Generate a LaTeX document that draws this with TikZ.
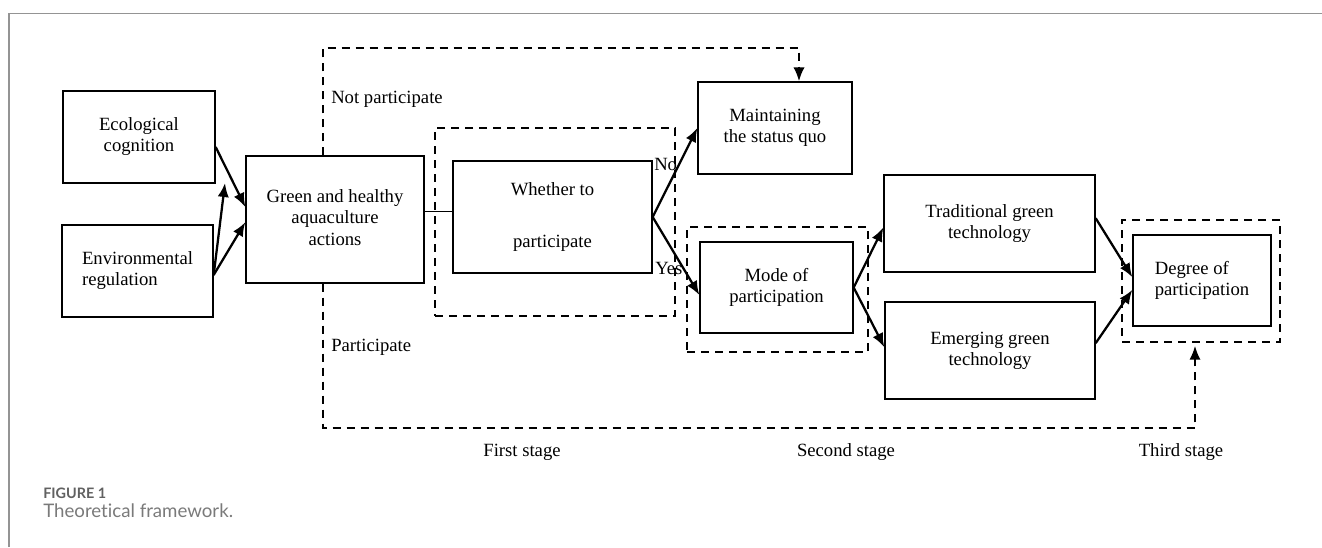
\documentclass[tikz,border=0pt]{standalone}
\usepackage{fontspec}
\setmainfont{Liberation Serif}
\newfontfamily\capfont[Ligatures=NoCommon]{Lato}
\usepackage{xcolor}
\usepackage{tikz}
\usetikzlibrary{arrows.meta}

\begin{document}
\begin{tikzpicture}[x=0.75pt, y=-0.75pt, >={Latex[length=10.5pt,width=8.5pt]},
                    font=\fontsize{14}{16}\selectfont]
\tikzstyle{block}=[rectangle, draw, line width=1pt, inner sep=1pt]
\tikzstyle{dashline}=[line width=1.6pt, dash pattern=on 6pt off 4.5pt]
\tikzstyle{stagebox}=[rectangle, draw, dashline, inner sep=0pt]
\tikzstyle{flow}=[->, line width=1.7pt]
\tikzstyle{note}=[inner sep=0pt]
  \useasboundingbox (0,0) rectangle (1322,547);
  % frame of the figure
  \draw[black!42, line width=1.1pt] (9,547) -- (9,13.5) -- (1322,13.5);
  % stage frames
  \node[stagebox] (first)  at (555,222)   [minimum width=180pt, minimum height=141pt] {};
  \node[stagebox] (second) at (777.5,289.5) [minimum width=135.75pt, minimum height=93.75pt] {};
  \node[stagebox] (third)  at (1201,281)  [minimum width=118.5pt, minimum height=91.5pt] {};
  % boxes
  \node[block] (eco) at (139,137) [minimum width=114pt, minimum height=69pt]
                            {\begin{tabular}{c}Ecological\\cognition\end{tabular}};
  \node[block] (env) at (137.5,271) [minimum width=113.25pt, minimum height=69pt]
                            {\begin{tabular}{l}Environmental\\regulation\end{tabular}};
  \node[block] (green) at (335,219.5) [minimum width=133.5pt, minimum height=95.25pt]
                            {\begin{tabular}{c}Green and healthy\\aquaculture\\actions\end{tabular}};
  \node[block] (whether) at (552.5,217) [minimum width=149.25pt, minimum height=84pt]
                            {\begin{tabular}{c}Whether to\\[23pt]participate\end{tabular}};
  \node[block] (maint) at (775,128) [minimum width=115.5pt, minimum height=69pt]
                            {\begin{tabular}{c}Maintaining\\the status quo\end{tabular}};
  \node[block] (mode) at (776.5,287.5) [minimum width=114.75pt, minimum height=68.25pt]
                            {\begin{tabular}{c}Mode of\\participation\end{tabular}};
  \node[block] (trad) at (989.5,223.5) [minimum width=158.25pt, minimum height=72.75pt]
                            {\begin{tabular}{c}Traditional green\\technology\end{tabular}};
  \node[block] (emerg) at (990,350.5) [minimum width=157.5pt, minimum height=72.75pt]
                            {\begin{tabular}{c}Emerging green\\technology\end{tabular}};
  \node[block] (degree) at (1202,280.5) [minimum width=103.5pt, minimum height=68.25pt]
                            {\begin{tabular}{l}Degree of\\participation\end{tabular}};
  % texts
  \node[note] (notpart) at (331,99) [anchor=west] {Not participate};
  \node[note] (part)    at (331,347) [anchor=west] {Participate};
  \node[note] (no)      at (654,164) [anchor=west] {No};
  \node[note] (yes)     at (655,268) [anchor=west] {Yes};
  \node[note] (stage1)  at (522,452) {First stage};
  \node[note] (stage2)  at (846,452) {Second stage};
  \node[note] (stage3)  at (1181,452) {Third stage};
  \node[note, anchor=west, text=black!62] (fig) at (43,493)
        {\capfont\fontsize{10.8}{12}\selectfont\bfseries FIGURE 1};
  \node[note, anchor=west, text=black!52] (cap) at (43,511)
        {\capfont\fontsize{14}{16}\selectfont Theoretical framework.};
  % connectors
  \coordinate (ecoTip) at (225,183);
  \coordinate (npTop)  at (323,48);
  \coordinate (npEnd)  at (799,48);
  \coordinate (pBot)   at (323,428);
  \coordinate (pEnd)   at (1195,428);
  \draw[flow] ([yshift=-7.5pt]eco.east) -- ([yshift=9.4pt]green.west);
  \draw[flow] ([yshift=-3pt]env.east) -- ([yshift=-2pt]green.west);
  \draw[flow] ([yshift=-3pt]env.east) -- (ecoTip);
  \draw[line width=1pt] ([yshift=4pt]whether.west -| green.east) -- ([yshift=4pt]whether.west);
  \draw[flow] (whether.east) -- (maint.west);
  \draw[flow] (whether.east) -- ([yshift=-5.6pt]mode.west);
  \draw[flow] (mode.east) -- ([yshift=-3pt]trad.west);
  \draw[flow] (mode.east) -- ([yshift=2.5pt]emerg.west);
  \draw[flow] ([yshift=4pt]trad.east) -- ([yshift=2.5pt]degree.west);
  \draw[flow] ([yshift=5.5pt]emerg.east) -- ([yshift=-7pt]degree.west);
  \draw[dashline, ->] (green.north -| npTop) -- (npTop) -- (npEnd) -- (maint.north -| npEnd);
  \draw[dashline, ->] (green.south -| pBot) -- (pBot) -- (pEnd) -- ([yshift=-2pt]third.south -| pEnd);
\end{tikzpicture}
\end{document}
